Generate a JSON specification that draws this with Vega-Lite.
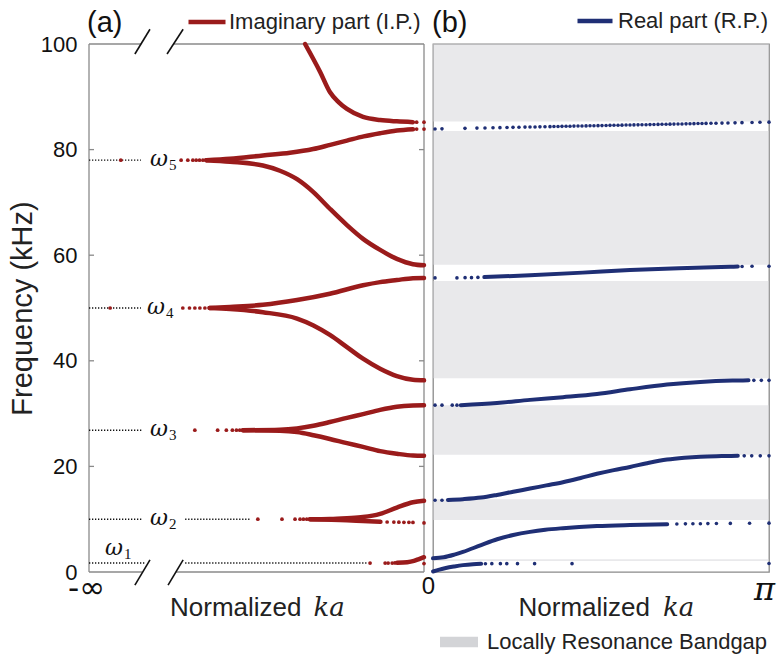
{
  "$schema": "https://vega.github.io/schema/vega-lite/v6.json",
  "background": "white",
  "padding": {"left": 8, "top": 0, "right": 5, "bottom": 0},
  "spacing": 9,
  "bounds": "flush",
  "config": {
    "view": {"stroke": null},
    "font": "Liberation Sans",
    "axis": {"grid": false}
  },
  "resolve": {
    "scale": {"color": "independent", "fill": "independent", "x": "independent", "y": "independent"},
    "legend": {"color": "independent", "fill": "independent"}
  },
  "datasets": {
    "one": [{}],
    "frameA": [
      {"u0": 0, "u1": 0, "f0": 0, "f1": 100},
      {"u0": 1, "u1": 1, "f0": 0, "f1": 100},
      {"u0": 0, "u1": 0.155, "f0": 100, "f1": 100},
      {"u0": 0.251, "u1": 1, "f0": 100, "f1": 100},
      {"u0": 0, "u1": 0.16, "f0": 0, "f1": 0},
      {"u0": 0.259, "u1": 1, "f0": 0, "f1": 0}
    ],
    "breaks": [
      {"u0": 0.137, "f0": 98.1, "u1": 0.182, "f1": 102.8},
      {"u0": 0.233, "f0": 98.1, "u1": 0.281, "f1": 102.8},
      {"u0": 0.137, "f0": -2.5, "u1": 0.182, "f1": 2.3},
      {"u0": 0.236, "f0": -2.5, "u1": 0.281, "f1": 2.3}
    ],
    "ticksA": [{"f": 20}, {"f": 40}, {"f": 60}, {"f": 80}],
    "dotted": [
      {"u0": 0, "u1": 0.155, "f": 78.0},
      {"u0": 0, "u1": 0.155, "f": 50.0},
      {"u0": 0, "u1": 0.16, "f": 26.85},
      {"u0": 0, "u1": 0.16, "f": 10.0},
      {"u0": 0.287, "u1": 0.48, "f": 10.0},
      {"u0": 0, "u1": 0.167, "f": 1.7},
      {"u0": 0.287, "u1": 0.83, "f": 1.7}
    ],
    "omegas": [
      {"u": 0.182, "f": 78.0, "n": "5"},
      {"u": 0.173, "f": 50.0, "n": "4"},
      {"u": 0.182, "f": 26.85, "n": "3"},
      {"u": 0.182, "f": 10.0, "n": "2"},
      {"u": 0.048, "f": 4.4, "n": "1"}
    ],
    "ipLines": [
      {"s": "A1", "u": 0.645, "f": 100}, {"s": "A1", "u": 0.69, "f": 94.7}, {"s": "A1", "u": 0.719, "f": 90.9}, {"s": "A1", "u": 0.745, "f": 89.0}, {"s": "A1", "u": 0.77, "f": 87.7}, {"s": "A1", "u": 0.818, "f": 86.2}, {"s": "A1", "u": 0.869, "f": 85.6}, {"s": "A1", "u": 0.919, "f": 85.35}, {"s": "A1", "u": 0.967, "f": 85.2},
      {"s": "A2", "u": 0.35, "f": 78.0}, {"s": "A2", "u": 0.421, "f": 78.25}, {"s": "A2", "u": 0.519, "f": 78.9}, {"s": "A2", "u": 0.6, "f": 79.4}, {"s": "A2", "u": 0.669, "f": 80.1}, {"s": "A2", "u": 0.72, "f": 80.9}, {"s": "A2", "u": 0.77, "f": 81.7}, {"s": "A2", "u": 0.82, "f": 82.5}, {"s": "A2", "u": 0.869, "f": 83.1}, {"s": "A2", "u": 0.919, "f": 83.6}, {"s": "A2", "u": 0.967, "f": 83.85},
      {"s": "A3", "u": 0.35, "f": 78.0}, {"s": "A3", "u": 0.421, "f": 77.7}, {"s": "A3", "u": 0.519, "f": 77.0}, {"s": "A3", "u": 0.57, "f": 76.0}, {"s": "A3", "u": 0.621, "f": 74.4}, {"s": "A3", "u": 0.669, "f": 72.0}, {"s": "A3", "u": 0.719, "f": 68.8}, {"s": "A3", "u": 0.77, "f": 65.7}, {"s": "A3", "u": 0.818, "f": 63.1}, {"s": "A3", "u": 0.869, "f": 61.0}, {"s": "A3", "u": 0.919, "f": 59.3}, {"s": "A3", "u": 0.967, "f": 58.3}, {"s": "A3", "u": 1.0, "f": 58.1},
      {"s": "A4", "u": 0.36, "f": 50.0}, {"s": "A4", "u": 0.421, "f": 50.2}, {"s": "A4", "u": 0.519, "f": 50.6}, {"s": "A4", "u": 0.621, "f": 51.5}, {"s": "A4", "u": 0.719, "f": 52.7}, {"s": "A4", "u": 0.818, "f": 54.3}, {"s": "A4", "u": 0.869, "f": 54.9}, {"s": "A4", "u": 0.919, "f": 55.3}, {"s": "A4", "u": 0.967, "f": 55.65}, {"s": "A4", "u": 1.0, "f": 55.7},
      {"s": "A5", "u": 0.36, "f": 50.0}, {"s": "A5", "u": 0.421, "f": 49.8}, {"s": "A5", "u": 0.519, "f": 49.2}, {"s": "A5", "u": 0.621, "f": 48.0}, {"s": "A5", "u": 0.67, "f": 46.7}, {"s": "A5", "u": 0.719, "f": 44.9}, {"s": "A5", "u": 0.77, "f": 42.6}, {"s": "A5", "u": 0.818, "f": 40.4}, {"s": "A5", "u": 0.869, "f": 38.5}, {"s": "A5", "u": 0.919, "f": 37.1}, {"s": "A5", "u": 0.967, "f": 36.4}, {"s": "A5", "u": 1.0, "f": 36.3},
      {"s": "A6", "u": 0.46, "f": 26.85}, {"s": "A6", "u": 0.57, "f": 26.95}, {"s": "A6", "u": 0.621, "f": 27.2}, {"s": "A6", "u": 0.67, "f": 27.7}, {"s": "A6", "u": 0.719, "f": 28.4}, {"s": "A6", "u": 0.77, "f": 29.2}, {"s": "A6", "u": 0.818, "f": 29.9}, {"s": "A6", "u": 0.869, "f": 30.7}, {"s": "A6", "u": 0.919, "f": 31.3}, {"s": "A6", "u": 0.967, "f": 31.55}, {"s": "A6", "u": 1.0, "f": 31.6},
      {"s": "A7", "u": 0.46, "f": 26.85}, {"s": "A7", "u": 0.57, "f": 26.75}, {"s": "A7", "u": 0.621, "f": 26.5}, {"s": "A7", "u": 0.67, "f": 25.9}, {"s": "A7", "u": 0.719, "f": 25.2}, {"s": "A7", "u": 0.77, "f": 24.4}, {"s": "A7", "u": 0.818, "f": 23.7}, {"s": "A7", "u": 0.869, "f": 22.9}, {"s": "A7", "u": 0.919, "f": 22.4}, {"s": "A7", "u": 0.967, "f": 22.05}, {"s": "A7", "u": 1.0, "f": 22.0},
      {"s": "A8", "u": 0.66, "f": 10.0}, {"s": "A8", "u": 0.719, "f": 10.05}, {"s": "A8", "u": 0.77, "f": 10.2}, {"s": "A8", "u": 0.818, "f": 10.4}, {"s": "A8", "u": 0.869, "f": 11.0}, {"s": "A8", "u": 0.919, "f": 12.2}, {"s": "A8", "u": 0.967, "f": 13.2}, {"s": "A8", "u": 1.0, "f": 13.5},
      {"s": "A9", "u": 0.66, "f": 10.0}, {"s": "A9", "u": 0.77, "f": 9.8}, {"s": "A9", "u": 0.818, "f": 9.65}, {"s": "A9", "u": 0.87, "f": 9.5},
      {"s": "A10", "u": 0.92, "f": 1.75}, {"s": "A10", "u": 0.95, "f": 1.85}, {"s": "A10", "u": 0.97, "f": 2.1}, {"s": "A10", "u": 0.985, "f": 2.45}, {"s": "A10", "u": 1.0, "f": 2.8}
    ],
    "ipDots": [
      {"u": 0.095, "f": 78.0}, {"u": 0.275, "f": 78.0}, {"u": 0.295, "f": 78.0}, {"u": 0.31, "f": 78.0}, {"u": 0.32, "f": 78.0}, {"u": 0.33, "f": 78.0}, {"u": 0.34, "f": 78.0},
      {"u": 0.978, "f": 85.2}, {"u": 1.0, "f": 85.2}, {"u": 0.978, "f": 83.9}, {"u": 1.0, "f": 83.9},
      {"u": 0.063, "f": 50.0}, {"u": 0.28, "f": 50.0}, {"u": 0.3, "f": 50.0}, {"u": 0.316, "f": 50.0}, {"u": 0.331, "f": 50.0}, {"u": 0.346, "f": 50.0},
      {"u": 0.316, "f": 26.85}, {"u": 0.384, "f": 26.85}, {"u": 0.41, "f": 26.85}, {"u": 0.428, "f": 26.85}, {"u": 0.44, "f": 26.85}, {"u": 0.45, "f": 26.85},
      {"u": 0.504, "f": 10.0}, {"u": 0.576, "f": 10.0}, {"u": 0.615, "f": 10.0}, {"u": 0.63, "f": 10.0}, {"u": 0.64, "f": 10.0}, {"u": 0.65, "f": 10.0},
      {"u": 0.89, "f": 9.47}, {"u": 0.91, "f": 9.45}, {"u": 0.925, "f": 9.44}, {"u": 0.94, "f": 9.42}, {"u": 0.955, "f": 9.4}, {"u": 0.967, "f": 9.38}, {"u": 1.0, "f": 9.3},
      {"u": 0.839, "f": 1.7}, {"u": 0.884, "f": 1.7}, {"u": 0.893, "f": 1.7}, {"u": 0.905, "f": 1.7}, {"u": 0.913, "f": 1.72}, {"u": 1.0, "f": 1.6}
    ],
    "gaps": [
      {"lo": 85.3, "hi": 100}, {"lo": 58.2, "hi": 83.5}, {"lo": 36.7, "hi": 55.1},
      {"lo": 22.2, "hi": 31.6}, {"lo": 9.85, "hi": 13.8}, {"lo": 2.1, "hi": 2.4}
    ],
    "rpLines": [
      {"s": "B1", "k": 0, "f": 0.1}, {"s": "B1", "k": 0.06, "f": 0.45}, {"s": "B1", "k": 0.12, "f": 0.75}, {"s": "B1", "k": 0.2, "f": 1.05}, {"s": "B1", "k": 0.28, "f": 1.3}, {"s": "B1", "k": 0.374, "f": 1.48}, {"s": "B1", "k": 0.45, "f": 1.55},
      {"s": "B2", "k": 0, "f": 2.6}, {"s": "B2", "k": 0.1, "f": 2.8}, {"s": "B2", "k": 0.2, "f": 3.3}, {"s": "B2", "k": 0.28, "f": 3.8}, {"s": "B2", "k": 0.45, "f": 5.1}, {"s": "B2", "k": 0.6, "f": 6.2}, {"s": "B2", "k": 0.75, "f": 7.0}, {"s": "B2", "k": 0.907, "f": 7.6}, {"s": "B2", "k": 1.05, "f": 8.0}, {"s": "B2", "k": 1.215, "f": 8.3}, {"s": "B2", "k": 1.533, "f": 8.7}, {"s": "B2", "k": 1.842, "f": 8.9}, {"s": "B2", "k": 2.19, "f": 9.05},
      {"s": "B3", "k": 0.14, "f": 13.65}, {"s": "B3", "k": 0.28, "f": 13.8}, {"s": "B3", "k": 0.45, "f": 14.1}, {"s": "B3", "k": 0.598, "f": 14.6}, {"s": "B3", "k": 0.75, "f": 15.2}, {"s": "B3", "k": 0.907, "f": 15.8}, {"s": "B3", "k": 1.06, "f": 16.4}, {"s": "B3", "k": 1.215, "f": 17.0}, {"s": "B3", "k": 1.38, "f": 17.8}, {"s": "B3", "k": 1.533, "f": 18.6}, {"s": "B3", "k": 1.69, "f": 19.3}, {"s": "B3", "k": 1.842, "f": 19.9}, {"s": "B3", "k": 2.0, "f": 20.6}, {"s": "B3", "k": 2.188, "f": 21.3}, {"s": "B3", "k": 2.35, "f": 21.65}, {"s": "B3", "k": 2.5, "f": 21.85}, {"s": "B3", "k": 2.7, "f": 21.95}, {"s": "B3", "k": 2.85, "f": 22.0},
      {"s": "B4", "k": 0.26, "f": 31.6}, {"s": "B4", "k": 0.598, "f": 32.0}, {"s": "B4", "k": 0.907, "f": 32.6}, {"s": "B4", "k": 1.215, "f": 33.1}, {"s": "B4", "k": 1.533, "f": 33.7}, {"s": "B4", "k": 1.842, "f": 34.6}, {"s": "B4", "k": 2.188, "f": 35.5}, {"s": "B4", "k": 2.5, "f": 36.0}, {"s": "B4", "k": 2.8, "f": 36.25}, {"s": "B4", "k": 2.95, "f": 36.3},
      {"s": "B5", "k": 0.48, "f": 55.85}, {"s": "B5", "k": 0.907, "f": 56.2}, {"s": "B5", "k": 1.4, "f": 56.7}, {"s": "B5", "k": 1.842, "f": 57.2}, {"s": "B5", "k": 2.3, "f": 57.55}, {"s": "B5", "k": 2.777, "f": 57.8}, {"s": "B5", "k": 2.85, "f": 57.85}
    ],
    "rpDots": [
      {"k": 0.49, "f": 1.57}, {"k": 0.55, "f": 1.58}, {"k": 0.63, "f": 1.58}, {"k": 0.69, "f": 1.58}, {"k": 0.79, "f": 1.58}, {"k": 0.95, "f": 1.58}, {"k": 1.3, "f": 1.58}, {"k": 3.1416, "f": 1.6},
      {"k": 2.28, "f": 9.1}, {"k": 2.36, "f": 9.12}, {"k": 2.43, "f": 9.14}, {"k": 2.5, "f": 9.15}, {"k": 2.57, "f": 9.17}, {"k": 2.65, "f": 9.18}, {"k": 2.78, "f": 9.2}, {"k": 2.96, "f": 9.22}, {"k": 3.1416, "f": 9.25},
      {"k": 0.019, "f": 13.6}, {"k": 0.084, "f": 13.6}, {"k": 2.91, "f": 22.0}, {"k": 2.98, "f": 22.0}, {"k": 3.06, "f": 22.0}, {"k": 3.1416, "f": 22.0},
      {"k": 0.019, "f": 31.6}, {"k": 0.084, "f": 31.6}, {"k": 0.18, "f": 31.6}, {"k": 0.224, "f": 31.6}, {"k": 3.0, "f": 36.3}, {"k": 3.07, "f": 36.3}, {"k": 3.1416, "f": 36.3},
      {"k": 0.019, "f": 55.7}, {"k": 0.224, "f": 55.7}, {"k": 0.3, "f": 55.75}, {"k": 0.36, "f": 55.75}, {"k": 0.42, "f": 55.8}, {"k": 2.89, "f": 57.87}, {"k": 2.983, "f": 57.9}, {"k": 3.1416, "f": 57.9},
      {"k": 0.019, "f": 83.91}, {"k": 0.084, "f": 83.93}, {"k": 0.299, "f": 84.02}, {"k": 0.411, "f": 84.07}, {"k": 0.486, "f": 84.1}, {"k": 0.561, "f": 84.13}, {"k": 0.626, "f": 84.16}, {"k": 0.692, "f": 84.19}, {"k": 0.748, "f": 84.21}, {"k": 0.804, "f": 84.23}, {"k": 0.86, "f": 84.26}, {"k": 0.907, "f": 84.28}, {"k": 0.954, "f": 84.29}, {"k": 1.0, "f": 84.31}, {"k": 1.047, "f": 84.33}, {"k": 1.094, "f": 84.35}, {"k": 1.131, "f": 84.37}, {"k": 1.169, "f": 84.38}, {"k": 1.206, "f": 84.4}, {"k": 1.244, "f": 84.42}, {"k": 1.281, "f": 84.43}, {"k": 1.318, "f": 84.45}, {"k": 1.356, "f": 84.46}, {"k": 1.393, "f": 84.48}, {"k": 1.431, "f": 84.49}, {"k": 1.468, "f": 84.51}, {"k": 1.505, "f": 84.52}, {"k": 1.543, "f": 84.54}, {"k": 1.58, "f": 84.55}, {"k": 1.618, "f": 84.57}, {"k": 1.655, "f": 84.59}, {"k": 1.692, "f": 84.6}, {"k": 1.73, "f": 84.62}, {"k": 1.767, "f": 84.63}, {"k": 1.805, "f": 84.65}, {"k": 1.842, "f": 84.66}, {"k": 1.879, "f": 84.68}, {"k": 1.917, "f": 84.69}, {"k": 1.954, "f": 84.71}, {"k": 1.992, "f": 84.72}, {"k": 2.029, "f": 84.74}, {"k": 2.066, "f": 84.76}, {"k": 2.104, "f": 84.77}, {"k": 2.141, "f": 84.79}, {"k": 2.179, "f": 84.8}, {"k": 2.216, "f": 84.82}, {"k": 2.253, "f": 84.83}, {"k": 2.291, "f": 84.85}, {"k": 2.328, "f": 84.86}, {"k": 2.366, "f": 84.88}, {"k": 2.403, "f": 84.89}, {"k": 2.44, "f": 84.91}, {"k": 2.478, "f": 84.93}, {"k": 2.515, "f": 84.94}, {"k": 2.553, "f": 84.96}, {"k": 2.599, "f": 84.98}, {"k": 2.646, "f": 85.0}, {"k": 2.702, "f": 85.02}, {"k": 2.758, "f": 85.04}, {"k": 2.824, "f": 85.07}, {"k": 2.889, "f": 85.1}, {"k": 2.983, "f": 85.13}, {"k": 3.057, "f": 85.17}, {"k": 3.1416, "f": 85.2}
    ]
  },
  "hconcat": [
    {
      "width": 335,
      "height": 528,
      "layer": [
        {
          "data": {"name": "frameA"},
          "mark": {"type": "rule", "color": "#8a8a8a", "strokeWidth": 1.3},
          "encoding": {
            "x": {"field": "u0", "type": "quantitative", "scale": {"domain": [0, 1], "nice": false, "zero": false},
              "axis": {"values": [0], "labelExpr": "'-∞'", "ticks": false, "domain": false, "title": null, "labelFont": "DejaVu Sans", "labelFontSize": 31, "labelPadding": 1, "labelFlush": false, "labelOverlap": false, "labelColor": "#111", "labelAlign": "center", "labelOffset": -3}},
            "x2": {"field": "u1"},
            "y": {"field": "f0", "type": "quantitative", "scale": {"domain": [0, 100], "nice": false, "zero": false},
              "axis": {"values": [0, 20, 40, 60, 80, 100], "ticks": false, "domain": false, "labelFontSize": 22, "labelPadding": 12, "labelColor": "#111", "labelFlush": false, "labelOverlap": false, "title": "Frequency (kHz)", "titleFontSize": 29, "titleFontWeight": "normal", "titlePadding": 3, "titleColor": "#222"}},
            "y2": {"field": "f1"}
          }
        },
        {
          "data": {"name": "ticksA"},
          "mark": {"type": "rule", "color": "#8a8a8a", "strokeWidth": 1.3},
          "encoding": {"x": {"datum": 0, "type": "quantitative"}, "x2": {"datum": 0.015}, "y": {"field": "f", "type": "quantitative"}}
        },
        {
          "data": {"name": "ticksA"},
          "mark": {"type": "rule", "color": "#8a8a8a", "strokeWidth": 1.3},
          "encoding": {"x": {"datum": 0.985, "type": "quantitative"}, "x2": {"datum": 1}, "y": {"field": "f", "type": "quantitative"}}
        },
        {
          "data": {"name": "breaks"},
          "mark": {"type": "rule", "color": "#111", "strokeWidth": 1.6, "clip": false},
          "encoding": {"x": {"field": "u0", "type": "quantitative"}, "x2": {"field": "u1"}, "y": {"field": "f0", "type": "quantitative"}, "y2": {"field": "f1"}}
        },
        {
          "data": {"name": "dotted"},
          "mark": {"type": "rule", "color": "#111", "strokeWidth": 1.4, "strokeDash": [1.3, 1.7]},
          "encoding": {"x": {"field": "u0", "type": "quantitative"}, "x2": {"field": "u1"}, "y": {"field": "f", "type": "quantitative"}}
        },
        {
          "data": {"name": "ipLines"},
          "mark": {"type": "line", "strokeWidth": 4.5, "strokeCap": "round", "interpolate": "monotone"},
          "encoding": {
            "x": {"field": "u", "type": "quantitative"},
            "y": {"field": "f", "type": "quantitative"},
            "detail": {"field": "s"},
            "color": {"datum": "Imaginary part (I.P.)", "type": "nominal", "scale": {"range": ["#9a1b1b"]},
              "legend": {"orient": "none", "legendX": 97, "legendY": -43, "title": null, "symbolType": "stroke", "symbolSize": 1369, "symbolStrokeWidth": 4.5, "labelFontSize": 22, "labelFont": "Liberation Sans", "labelColor": "#222", "labelLimit": 0, "padding": 0, "labelOffset": 1}}
          }
        },
        {
          "data": {"name": "ipDots"},
          "mark": {"type": "point", "filled": true, "size": 14, "color": "#9a1b1b", "opacity": 1},
          "encoding": {"x": {"field": "u", "type": "quantitative"}, "y": {"field": "f", "type": "quantitative"}}
        },
        {
          "data": {"name": "omegas"},
          "mark": {"type": "text", "text": "ω", "font": "DejaVu Serif", "fontStyle": "italic", "fontSize": 22, "align": "left", "baseline": "alphabetic", "dy": 6, "color": "#111"},
          "encoding": {"x": {"field": "u", "type": "quantitative"}, "y": {"field": "f", "type": "quantitative"}}
        },
        {
          "data": {"name": "omegas"},
          "mark": {"type": "text", "font": "Liberation Serif", "fontSize": 15, "align": "left", "baseline": "alphabetic", "dx": 19, "dy": 10, "color": "#111"},
          "encoding": {"x": {"field": "u", "type": "quantitative"}, "y": {"field": "f", "type": "quantitative"}, "text": {"field": "n"}}
        },
        {
          "data": {"name": "one"},
          "mark": {"type": "text", "text": "(a)", "font": "Liberation Sans", "fontSize": 29, "align": "left", "baseline": "alphabetic", "dx": -2, "dy": -12, "color": "#111"},
          "encoding": {"x": {"datum": 0, "type": "quantitative"}, "y": {"datum": 100, "type": "quantitative"}}
        },
        {
          "data": {"name": "one"},
          "mark": {"type": "text", "text": "Normalized", "font": "Liberation Sans", "fontSize": 26, "align": "right", "baseline": "alphabetic", "dx": 45, "dy": 44, "color": "#222"},
          "encoding": {"x": {"datum": 0.5, "type": "quantitative"}, "y": {"datum": 0, "type": "quantitative"}}
        },
        {
          "data": {"name": "one"},
          "mark": {"type": "text", "text": "ka", "font": "DejaVu Serif", "fontStyle": "italic", "fontSize": 26, "align": "left", "baseline": "alphabetic", "dx": 57, "dy": 44, "color": "#222"},
          "encoding": {"x": {"datum": 0.5, "type": "quantitative"}, "y": {"datum": 0, "type": "quantitative"}}
        }
      ]
    },
    {
      "width": 336,
      "height": 528,
      "view": {"stroke": "#8a8a8a", "strokeWidth": 1.3},
      "layer": [
        {
          "data": {"name": "gaps"},
          "mark": {"type": "rect", "opacity": 0.5},
          "encoding": {
            "x": {"datum": 0, "type": "quantitative", "scale": {"domain": [0, 3.14159], "nice": false, "zero": false},
              "axis": {"values": [0, 3.14159], "labelExpr": "datum.value < 1 ? '0' : 'π'", "ticks": false, "domain": false, "title": null,
                "labelFont": {"condition": {"test": "datum.value > 1", "value": "DejaVu Serif"}, "value": "Liberation Sans"},
                "labelFontStyle": {"condition": {"test": "datum.value > 1", "value": "italic"}, "value": "normal"},
                "labelFontSize": {"condition": {"test": "datum.value > 1", "value": 32}, "value": 24},
                "labelPadding": 2, "labelFlush": false, "labelOverlap": false, "labelColor": "#111", "labelAlign": "center", "labelOffset": -5}},
            "x2": {"datum": 3.14159},
            "y": {"field": "lo", "type": "quantitative", "scale": {"domain": [0, 100], "nice": false, "zero": false}, "axis": null},
            "y2": {"field": "hi"},
            "fill": {"datum": "Locally Resonance Bandgap", "type": "nominal", "scale": {"range": ["#d3d4d7"]},
              "legend": {"orient": "none", "legendX": 7, "legendY": 579, "title": null, "symbolType": "M-1,-0.27H1V0.27H-1Z", "symbolSize": 1444, "symbolOpacity": 1, "symbolFillColor": "#d2d2d2", "symbolStrokeWidth": 0, "labelFontSize": 22, "labelFont": "Liberation Sans", "labelColor": "#222", "labelLimit": 0, "padding": 0, "labelOffset": 9}}
          }
        },
        {
          "data": {"name": "rpLines"},
          "mark": {"type": "line", "strokeWidth": 4, "strokeCap": "round", "interpolate": "monotone"},
          "encoding": {
            "x": {"field": "k", "type": "quantitative"},
            "y": {"field": "f", "type": "quantitative"},
            "detail": {"field": "s"},
            "color": {"datum": "Real part (R.P.)", "type": "nominal", "scale": {"range": ["#1f2f75"]},
              "legend": {"orient": "none", "legendX": 142, "legendY": -43, "title": null, "symbolType": "stroke", "symbolSize": 1225, "symbolStrokeWidth": 4.5, "labelFontSize": 22, "labelFont": "Liberation Sans", "labelColor": "#222", "labelLimit": 0, "padding": 0, "labelOffset": 3}}
          }
        },
        {
          "data": {"name": "rpDots"},
          "mark": {"type": "point", "filled": true, "size": 13, "color": "#1f2f75", "opacity": 1},
          "encoding": {"x": {"field": "k", "type": "quantitative"}, "y": {"field": "f", "type": "quantitative"}}
        },
        {
          "data": {"name": "one"},
          "mark": {"type": "text", "text": "(b)", "font": "Liberation Sans", "fontSize": 29, "align": "left", "baseline": "alphabetic", "dx": -1, "dy": -12, "color": "#111"},
          "encoding": {"x": {"datum": 0, "type": "quantitative"}, "y": {"datum": 100, "type": "quantitative"}}
        },
        {
          "data": {"name": "one"},
          "mark": {"type": "text", "text": "Normalized", "font": "Liberation Sans", "fontSize": 26, "align": "right", "baseline": "alphabetic", "dx": 49, "dy": 44, "color": "#222"},
          "encoding": {"x": {"datum": 1.5708, "type": "quantitative"}, "y": {"datum": 0, "type": "quantitative"}}
        },
        {
          "data": {"name": "one"},
          "mark": {"type": "text", "text": "ka", "font": "DejaVu Serif", "fontStyle": "italic", "fontSize": 26, "align": "left", "baseline": "alphabetic", "dx": 62, "dy": 44, "color": "#222"},
          "encoding": {"x": {"datum": 1.5708, "type": "quantitative"}, "y": {"datum": 0, "type": "quantitative"}}
        }
      ]
    }
  ]
}
